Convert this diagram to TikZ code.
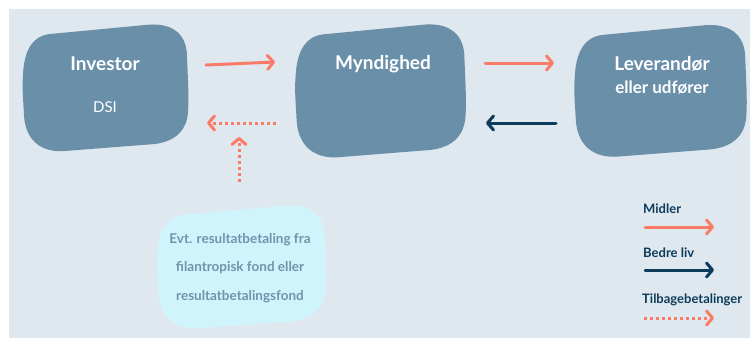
\documentclass[tikz,border=0pt]{standalone}
\usepackage{fontspec}
\setmainfont{Lato}
\usetikzlibrary{arrows.meta}
\definecolor{bgc}{HTML}{E0E8EF}
\definecolor{blobc}{HTML}{6A8FA9}
\definecolor{cyanc}{HTML}{CFF4FB}
\definecolor{salmon}{HTML}{FA7B68}
\definecolor{navy}{HTML}{0D3B5C}
\definecolor{cyantext}{HTML}{7393AD}
\begin{document}
\begin{tikzpicture}[x=1pt,y=-1pt,
  pics/blob/.style={code={
    \fill[pic actions] (-55,-53) -- (40,-62) .. controls (65,-65) and (82,-55) .. (82,-30)
      .. controls (83,-5) and (84,10) .. (83,25) .. controls (82,42) and (72,54) .. (50,57)
      -- (-40,64) .. controls (-65,66) and (-80,52) .. (-81,28)
      .. controls (-82,10) and (-83,0) .. (-82,-12) .. controls (-81,-36) and (-73,-51) .. (-55,-53) -- cycle;}},
  title/.style={text=white, font=\fontsize{19}{21}\selectfont\bfseries, inner sep=0pt},
  sub/.style={text=white, font=\fontsize{15}{18}\selectfont, inner sep=0pt},
  ctext/.style={text=cyantext, font=\fontsize{13.5}{15}\selectfont\bfseries, inner sep=0pt},
  legtext/.style={text=navy, font=\fontsize{13}{15}\selectfont\bfseries, inner sep=0pt, anchor=west},
  tip/.style={-{Straight Barb[length=6pt,width=14pt,line width=3pt,round]}},
  flow/.style={salmon, line width=3pt, line cap=round, tip},
  life/.style={navy, line width=3pt, line cap=round, tip},
  back/.style={salmon, line width=3pt, dash pattern=on 3pt off 3pt, tip}]
\useasboundingbox (0,0) rectangle (750,338);
\fill[white] (0,0) rectangle (750,338);
\fill[bgc] (9,9) rectangle (750,338);
% blobs
\pic[fill=blobc] (b1) at (105,87) {blob};
\pic[fill=blobc, xscale=1.03, yscale=1.05] (b2) at (380,90) {blob};
\pic[fill=blobc, xscale=1.04, yscale=1.04] (b3) at (660,90) {blob};
\pic[fill=cyanc, xscale=1.02, yscale=0.97] (b4) at (241,266) {blob};
% texts
\node[title] (inv) at (105,64) {Investor};
\node[sub] (dsi) at (105,107) {DSI};
\node[title] (myn) at (383,64) {Myndighed};
\node[title] (lev) at (662,64) {Leverandør};
\node[sub, font=\fontsize{17}{20}\selectfont\bfseries] (udf) at (662,88) {eller udfører};
\node[ctext] (c1) at (240,240) {Evt. resultatbetaling fra};
\node[ctext] (c2) at (240,268) {filantropisk fond eller};
\node[ctext] (c3) at (240,297) {resultatbetalingsfond};
% arrow endpoints
\coordinate (a1s) at (206,65); \coordinate (a1e) at (275,62);
\coordinate (a2s) at (276,123); \coordinate (a2e) at (207,123);
\coordinate (a3s) at (239,182); \coordinate (a3e) at (239,137);
\coordinate (a4s) at (485,63); \coordinate (a4e) at (554,63);
\coordinate (a5s) at (556,123); \coordinate (a5e) at (486,123);
\draw[flow] (a1s) -- (a1e);
\draw[back] (a2s) -- (a2e);
\draw[back] (a3s) -- (a3e);
\draw[flow] (a4s) -- (a4e);
\draw[life] (a5s) -- (a5e);
% legend
\node[legtext] (l1) at (643,209) {Midler};
\node[legtext] (l2) at (643,253) {Bedre liv};
\node[legtext] (l3) at (642,300) {Tilbagebetalinger};
\coordinate (k1s) at (645,227); \coordinate (k1e) at (714,227);
\coordinate (k2s) at (645,270); \coordinate (k2e) at (714,270);
\coordinate (k3s) at (644,318); \coordinate (k3e) at (714,318);
\draw[flow] (k1s) -- (k1e);
\draw[life] (k2s) -- (k2e);
\draw[back] (k3s) -- (k3e);
\end{tikzpicture}
\end{document}
